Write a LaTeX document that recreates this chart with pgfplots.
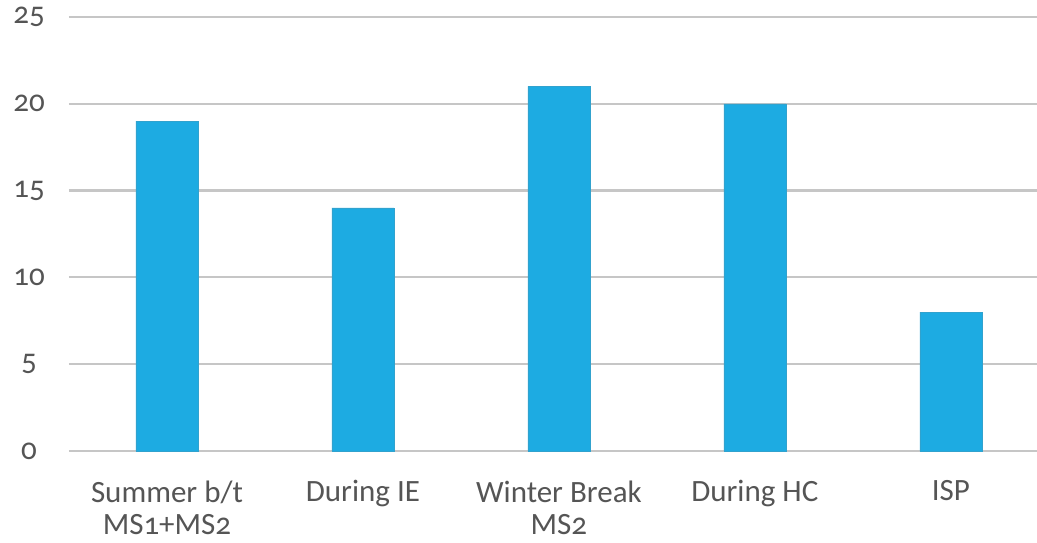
\documentclass[border=0pt]{standalone}
\usepackage{pgfplots}
\pgfplotsset{compat=1.18}
\usepackage{fontspec}
\setmainfont{Carlito}[Numbers=OldStyle]
\definecolor{barblue}{HTML}{1DABE2}
\definecolor{gridgray}{HTML}{C6C6C6}
\definecolor{txt}{HTML}{555555}
\begin{document}
\begin{tikzpicture}
\begin{axis}[
  scale only axis,
  width=968bp, height=434bp,
  xmin=-0.5, xmax=4.44,
  ymin=0, ymax=25,
  ytick={0,5,10,15,20,25},
  yticklabels={0,5,10,15,20,25},
  xtick=data,
  xticklabels={{Summer b/t\\MS1+MS2},{During IE},{Winter Break\\MS2},{During HC},{ISP}},
  ymajorgrids,
  grid style={gridgray, line width=2.2bp},
  axis line style={draw=none},
  major tick style={draw=none},
  tick label style={font=\fontsize{31bp}{32bp}\selectfont, text=txt},
  xticklabel style={align=center, yshift=-26bp},
  yticklabel style={anchor=center, xshift=-40bp},
  clip=false,
]
\addplot[ybar, bar width=62bp, fill=barblue, draw=barblue!80!gray] coordinates {(0,19) (1,14) (2,21) (3,20) (4,8)};
\end{axis}
\pgfresetboundingbox
\useasboundingbox ([xshift=-69bp,yshift=-92bp]current axis.south west) rectangle ([yshift=17bp]current axis.north east);
\end{tikzpicture}
\end{document}
